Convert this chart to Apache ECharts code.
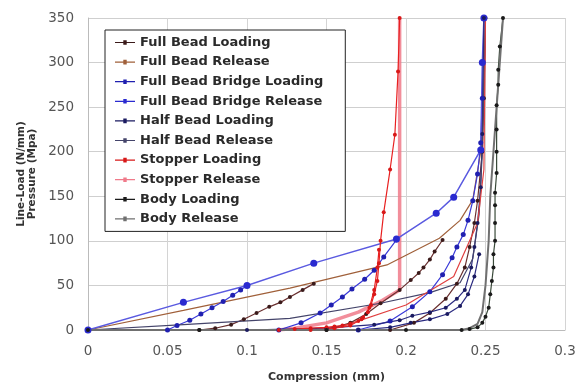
<!DOCTYPE html>
<html>
<head>
<meta charset="utf-8">
<script src="https://cdn.jsdelivr.net/npm/echarts@6/dist/echarts.min.js"></script>
<style>
  html, body { margin: 0; padding: 0; background: #fff; }
  #chart { width: 575px; height: 385px; }
</style>
</head>
<body>
<div id="chart"></div>
<script>
// values: [compression (mm), line-load (N/mm)]
const fullBeadLoading1 = [[0.07, 0], [0.08, 2], [0.09, 6], [0.098, 12], [0.106, 19], [0.114, 26], [0.121, 31], [0.127, 37], [0.135, 45], [0.142, 52]]
const fullBeadLoading2 = [[0.15, 0], [0.165, 8], [0.175, 18], [0.184, 30], [0.196, 45], [0.203, 56], [0.208, 64], [0.211, 70], [0.215, 79], [0.218, 88], [0.223, 101]]
const fullBeadLoading3 = [[0.19, 0], [0.205, 8], [0.215, 19], [0.225, 35], [0.232, 52], [0.237, 70], [0.24, 93], [0.243, 120], [0.245, 145], [0.248, 200], [0.249, 260], [0.25, 350]]
const fullBeadRelease = [[0, 0], [0.06, 22], [0.127, 47], [0.188, 73], [0.221, 103], [0.234, 123], [0.242, 146], [0.247, 200], [0.249, 280], [0.25, 350]]
const bridgeLoading1 = [[0.05, 0], [0.056, 5], [0.064, 11], [0.071, 18], [0.078, 25], [0.085, 32], [0.091, 39], [0.096, 45], [0.1, 50]]
const bridgeLoading2 = [[0.12, 0], [0.134, 8], [0.146, 19], [0.153, 28], [0.16, 37], [0.166, 46], [0.174, 57], [0.18, 67], [0.186, 82], [0.194, 101]]
const bridgeLoading3 = [[0.17, 0], [0.19, 10], [0.204, 26], [0.215, 43], [0.223, 62], [0.229, 81], [0.232, 93], [0.236, 107], [0.239, 123], [0.242, 145], [0.245, 175], [0.247, 210], [0.248, 260], [0.249, 350]]
const bridgeRelease = [[0, 0], [0.06, 31], [0.1, 50], [0.142, 75], [0.194, 102], [0.219, 131], [0.23, 149], [0.247, 202], [0.248, 300], [0.249, 350]]
const halfBeadLoading1 = [[0.1, 0], [0.15, 2], [0.18, 6], [0.196, 11], [0.204, 16], [0.215, 20], [0.225, 25], [0.232, 35], [0.237, 45], [0.241, 70], [0.243, 93], [0.245, 120], [0.247, 160], [0.248, 220], [0.249, 350]]
const halfBeadLoading2 = [[0.17, 0], [0.19, 3], [0.203, 8], [0.215, 12], [0.226, 18], [0.234, 27], [0.239, 40], [0.243, 60], [0.246, 85]]
const halfBeadRelease = [[0, 0], [0.06, 6], [0.127, 13], [0.184, 30], [0.215, 42], [0.234, 53], [0.242, 80], [0.246, 130], [0.248, 200], [0.25, 350]]
const stopperLoading1 = [[0.12, 0], [0.13, 1], [0.14, 2], [0.15, 3], [0.155, 4], [0.16, 5], [0.165, 7], [0.17, 10], [0.173, 14], [0.176, 20], [0.178, 28], [0.18, 40], [0.182, 55], [0.183, 75], [0.184, 100], [0.186, 132], [0.19, 180], [0.193, 219], [0.195, 290], [0.196, 350]]
const stopperLoading2 = [[0.14, 0], [0.155, 2], [0.165, 5], [0.172, 12], [0.177, 25], [0.18, 45], [0.182, 70], [0.183, 90]]
const stopperRelease1 = [[0.196, 350], [0.196, 150], [0.196, 45], [0.185, 33], [0.17, 20], [0.15, 8], [0.13, 2], [0.12, 0]]
const stopperRelease2 = [[0.16, 4], [0.2, 28], [0.23, 60], [0.245, 120], [0.249, 180], [0.25, 350]]
const bodyLoading = [[0, 0], [0.07, 0], [0.15, 0], [0.2, 0], [0.235, 0], [0.24, 1], [0.245, 3], [0.248, 8], [0.25, 15], [0.252, 25], [0.253, 40], [0.254, 55], [0.255, 70], [0.255, 85], [0.256, 100], [0.256, 120], [0.256, 140], [0.256, 154], [0.257, 176], [0.257, 200], [0.257, 225], [0.257, 252], [0.258, 275], [0.258, 292], [0.259, 318], [0.261, 350]]
const bodyRelease = [[0.261, 350], [0.259, 300], [0.257, 250], [0.255, 200], [0.253, 150], [0.252, 100], [0.25, 50], [0.248, 20], [0.245, 7], [0.24, 2], [0.235, 0], [0, 0]]

const legendNames = ['Full Bead Loading', 'Full Bead Release', 'Full Bead Bridge Loading', 'Full Bead Bridge Release',
  'Half Bead Loading', 'Half Bead Release', 'Stopper Loading', 'Stopper Release', 'Body Loading', 'Body Release']

// short line with a small square marker, like the spreadsheet legend
const legendIcon = 'path://M0,3H20V4.2H0Z M8.3,1.3H11.7V5.9H8.3Z'

function line(name, data, color, opts) {
  opts = opts || {}
  return {
    name: name,
    type: 'line',
    data: data,
    symbol: opts.symbol || 'circle',
    symbolSize: opts.size || 4,
    showSymbol: opts.symbol !== 'none',
    lineStyle: { color: color, width: opts.width || 1.2, opacity: opts.opacity || 1 },
    itemStyle: { color: opts.markerColor || color },
    z: opts.z || 2
  }
}

const chart = echarts.init(document.getElementById('chart'))
chart.setOption({
  animation: false,
  backgroundColor: '#fff',
  textStyle: { fontFamily: 'DejaVu Sans' },
  grid: { left: 88, right: 10, top: 18, bottom: 55, outerBoundsMode: 'none', containLabel: false },
  legend: {
    data: legendNames.map(n => ({ name: n, icon: legendIcon })),
    orient: 'vertical',
    left: 105,
    top: 30,
    padding: [6, 22, 6, 10],
    itemWidth: 20,
    itemHeight: 7,
    itemGap: 6.6,
    backgroundColor: '#fff',
    borderColor: '#222',
    borderWidth: 1,
    textStyle: { fontSize: 13, fontWeight: 'bold', color: '#2a2a2a', fontFamily: 'DejaVu Sans' }
  },
  xAxis: {
    type: 'value',
    min: 0,
    max: 0.3,
    interval: 0.05,
    name: 'Compression (mm)',
    nameLocation: 'middle',
    nameGap: 42,
    nameTextStyle: { fontSize: 11, fontWeight: 'bold', color: '#333' },
    axisLine: { lineStyle: { color: '#bbb' } },
    axisTick: { show: false },
    axisLabel: { fontSize: 13.5, color: '#555', margin: 14 },
    splitLine: { lineStyle: { color: '#d4d4d4' } }
  },
  yAxis: {
    type: 'value',
    min: 0,
    max: 350,
    interval: 50,
    name: 'Line-Load (N/mm)\nPressure (Mpa)',
    nameLocation: 'middle',
    nameGap: 50,
    nameTextStyle: { fontSize: 10.5, fontWeight: 'bold', color: '#333', lineHeight: 11 },
    axisLine: { show: true, lineStyle: { color: '#bbb' } },
    axisTick: { show: false },
    axisLabel: { fontSize: 13.5, color: '#555', margin: 14 },
    splitLine: { lineStyle: { color: '#cfcfcf' } }
  },
  series: [
    line('Full Bead Loading', fullBeadLoading1, '#6a3030', { markerColor: '#3a1a1a' }),
    line('Full Bead Loading', fullBeadLoading2, '#6a3030', { markerColor: '#3a1a1a' }),
    line('Full Bead Loading', fullBeadLoading3, '#6a3030', { markerColor: '#3a1a1a' }),
    line('Full Bead Release', fullBeadRelease, '#a0603a', { symbol: 'none' }),
    line('Full Bead Bridge Loading', bridgeLoading1, '#3a3ad8', { markerColor: '#2020b0', size: 5 }),
    line('Full Bead Bridge Loading', bridgeLoading2, '#3a3ad8', { markerColor: '#2020b0', size: 5 }),
    line('Full Bead Bridge Loading', bridgeLoading3, '#3a3ad8', { markerColor: '#2020b0', size: 5 }),
    line('Full Bead Bridge Release', bridgeRelease, '#5a5ae0', { markerColor: '#2a2ad0', size: 7, width: 1.5 }),
    line('Half Bead Loading', halfBeadLoading1, '#2a2a80', { markerColor: '#1a1a60' }),
    line('Half Bead Loading', halfBeadLoading2, '#2a2a80', { markerColor: '#1a1a60' }),
    line('Half Bead Release', halfBeadRelease, '#44446a', { symbol: 'none' }),
    line('Stopper Loading', stopperLoading1, '#e82020', { markerColor: '#d81818' }),
    line('Stopper Loading', stopperLoading2, '#e82020', { markerColor: '#d81818' }),
    line('Stopper Release', stopperRelease1, '#f07a8a', { symbol: 'none', width: 3.5, opacity: 0.85, z: 1 }),
    line('Stopper Release', stopperRelease2, '#e04040', { symbol: 'none' }),
    line('Body Loading', bodyLoading, '#3a4a3a', { markerColor: '#1a1a1a' }),
    line('Body Release', bodyRelease, '#707070', { symbol: 'none', width: 2 })
  ]
})
</script>
</body>
</html>
